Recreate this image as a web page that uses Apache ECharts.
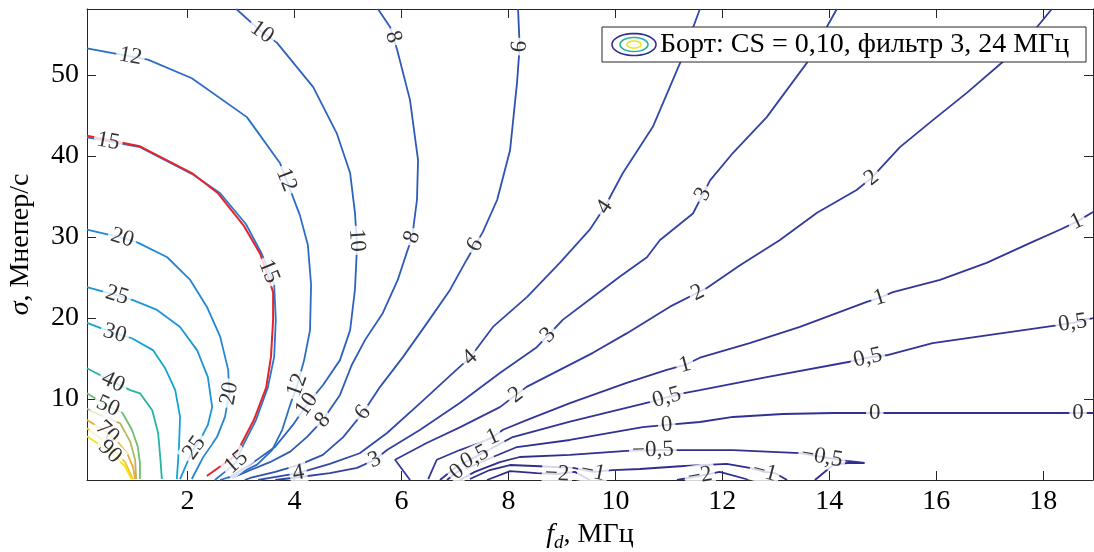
<!DOCTYPE html>
<html><head><meta charset="utf-8">
<script src="https://cdn.jsdelivr.net/npm/echarts@6/dist/echarts.min.js"></script>
<style>html,body{margin:0;padding:0;background:#fff}#c{width:1094px;height:552px}</style>
</head><body><div id="c"></div>
<script>
// ---------- DATA (fd in MHz, sigma in Mneper/s) ----------
const xTicks = [2, 4, 6, 8, 10, 12, 14, 16, 18];
const yTicks = [10, 20, 30, 40, 50];

const contourNeg2a = [[7.60,0],[8.03,1.1],[8.53,0.86],[8.91,0.74],[9.24,1.0],[9.52,0]];
const contourNeg2b = [[11.15,0],[11.58,0.5],[11.95,1.0],[12.51,0]];
const contourNeg1 = [[7.28,0.12],[7.65,1.23],[8.03,1.85],[8.59,1.7],[9.21,1.5],[9.58,1.0],[9.95,1.23],[10.46,1.36],[11.21,1.7],[12.08,2.0],[12.51,1.5],[12.79,1.0],[12.98,0.86],[13.21,0]];
const contourNeg05 = [[7.09,0],[7.37,1.0],[7.84,2.2],[8.21,2.84],[9.15,3.1],[10.21,3.6],[10.70,3.7],[11.58,3.7],[12.20,3.7],[13.45,3.33],[13.86,2.84],[14.33,2.35],[14.66,2.1],[14.33,2.1],[14.07,1.85],[13.73,0]];
const contour0 = [[6.85,0],[7.04,1.0],[7.28,1.6],[7.71,2.84],[8.16,4.07],[9.15,4.94],[10.51,6.54],[10.96,6.8],[11.58,7.16],[12.20,7.78],[13.13,8.15],[14.07,8.27],[15.07,8.27],[18.93,8.27]];
const contour05 = [[6.72,0],[7.02,1.6],[7.37,2.8],[7.71,4.0],[8.08,5.3],[9.15,7.2],[10.64,9.6],[10.96,10.2],[11.26,10.7],[11.58,11.1],[12.83,12.7],[14.38,14.6],[14.72,15.1],[15.07,15.4],[15.93,16.9],[18.25,19.1],[18.55,19.4],[18.93,20.0]];
const contour1 = [[6.50,0.12],[6.66,2.5],[7.09,3.7],[7.47,4.6],[7.71,5.3],[7.90,6.2],[8.34,7.4],[9.15,9.5],[10.21,12.0],[10.96,13.6],[11.30,14.2],[11.58,15.1],[12.51,16.9],[13.45,18.9],[14.70,22.0],[14.94,22.5],[15.19,23.2],[16.07,24.7],[16.94,26.8],[17.80,29.4],[18.31,30.9],[18.63,31.9],[18.93,33.1]];
const contour2 = [[6.16,0],[5.88,2.5],[6.48,4.6],[7.09,6.5],[7.84,9.0],[8.34,11.5],[8.96,13.6],[9.58,15.7],[10.21,18.1],[11.02,21.4],[11.71,23.7],[12.33,26.5],[13.07,29.6],[13.77,33.0],[14.51,35.8],[14.79,37.3],[15.32,41.1],[15.93,44.4],[16.57,47.8],[17.24,51.6],[17.88,55.9],[18.16,58.15]];
const contour3 = [[3.64,0],[4.10,0.37],[4.66,0.86],[5.17,1.5],[5.50,2.5],[5.73,3.7],[6.35,6.2],[7.09,9.5],[7.84,13.2],[8.53,16.4],[9.02,19.8],[9.58,22.6],[10.08,25.1],[10.59,27.5],[10.83,29.6],[11.45,32.9],[11.77,37.0],[12.20,40.4],[12.83,44.8],[13.58,51.5],[14.14,58.15]];
const contour4 = [[3.32,0],[3.54,0.25],[4.07,0.86],[4.66,2.0],[5.22,3.3],[5.73,5.8],[6.35,9.5],[6.96,13.2],[7.28,15.1],[7.71,18.9],[8.35,22.6],[8.96,26.8],[9.52,30.9],[9.80,33.7],[10.14,37.9],[10.70,43.6],[11.21,51.5],[11.58,58.15]];
const contour6 = [[3.07,0],[3.17,0.25],[3.64,1.0],[4.10,1.9],[4.53,3.1],[4.91,5.3],[5.28,8.3],[5.60,11.5],[6.03,15.2],[6.48,19.4],[6.91,23.5],[7.22,27.2],[7.52,30.6],[7.79,34.6],[8.03,40.7],[8.16,49.0],[8.21,53.5],[8.18,58.15]];
const contour8 = [[2.83,0.25],[3.17,1.2],[3.54,2.2],[3.92,3.5],[4.23,5.3],[4.53,7.4],[4.85,10.5],[5.07,14.2],[5.32,17.3],[5.65,20.6],[5.93,24.7],[6.10,28.1],[6.20,30.0],[6.29,34.6],[6.31,39.5],[6.16,46.9],[5.92,53.1],[5.79,55.9],[5.56,58.15]];
const contour10 = [[2.76,0.25],[3.17,1.9],[3.64,4.1],[3.97,6.8],[4.23,9.3],[4.53,11.7],[4.85,14.8],[5.04,18.5],[5.13,23.5],[5.17,29.0],[5.13,33.0],[5.04,37.9],[4.79,42.8],[4.35,48.5],[3.67,54.0],[3.39,55.3],[2.91,58.15]];
const contour12 = [[2.61,0],[2.94,0.7],[3.30,1.9],[3.58,3.7],[3.77,6.2],[3.92,9.3],[4.05,11.7],[4.18,14.8],[4.29,18.5],[4.31,24.1],[4.25,29.0],[4.10,32.7],[3.73,39.1],[3.11,44.8],[2.08,49.6],[1.26,51.9],[0.12,53.3]];
const contour15 = [[2.51,0],[2.70,1.0],[2.91,2.2],[3.04,4.3],[3.28,7.4],[3.50,11.4],[3.62,15.2],[3.65,19.8],[3.62,24.1],[3.39,27.9],[3.09,31.6],[2.61,35.4],[2.08,37.8],[1.11,41.1],[0.12,42.3]];
const contour20 = [[2.08,0.12],[2.29,2.8],[2.55,5.3],[2.70,7.8],[2.78,10.7],[2.76,13.6],[2.61,17.7],[2.36,21.4],[2.05,24.7],[1.62,27.5],[1.07,29.3],[0.78,29.9],[0.12,30.9]];
const contour25 = [[1.86,0.12],[1.99,2.1],[2.10,3.7],[2.23,4.9],[2.38,6.8],[2.46,9.0],[2.38,12.7],[2.18,16.0],[1.86,18.9],[1.43,21.0],[0.98,22.2],[0.68,22.8],[0.12,23.8]];
const contour30 = [[1.80,0.12],[1.84,4.1],[1.86,7.8],[1.77,11.1],[1.58,13.8],[1.36,16.0],[0.96,17.5],[0.64,18.1],[0.12,19.4]];
const contour40 = [[1.52,0.12],[1.49,2.8],[1.45,5.8],[1.34,8.6],[1.11,10.7],[0.93,11.1],[0.61,12.1],[0.12,13.8]];
const contour50 = [[1.11,0.12],[1.11,2.1],[1.07,4.1],[0.96,6.2],[0.78,8.3],[0.51,9.1],[0.12,10.7]];
const contour60 = [[1.04,0.12],[1.02,2.5],[0.93,4.7],[0.74,7.0],[0.12,8.8]];
const contour70 = [[1.02,0.12],[0.98,1.6],[0.87,3.3],[0.69,4.7],[0.50,5.9],[0.12,7.4]];
const contour80 = [[0.98,0.12],[0.83,2.2],[0.55,4.3],[0.12,6.4]];
const contour90 = [[0.95,0.12],[0.83,1.7],[0.55,3.5],[0.12,5.4]];
const boundaryRed = [[2.36,0.5],[2.89,3.0],[3.24,7.4],[3.47,11.4],[3.56,15.2],[3.60,19.8],[3.60,23.2],[3.36,27.9],[3.04,31.5],[2.57,35.4],[2.08,37.9],[1.11,41.2],[0.12,42.5]];

// contour label spots: [level, fd, sigma]
const labelSpots = [
 [12,0.93,52.2],[12,3.82,37.0],[12,4.05,11.7],
 [10,3.39,55.3],[10,5.17,29.6],[10,4.23,9.3],
 [8,5.84,54.7],[8,6.20,30.0],[8,4.53,7.4],
 [6,8.21,53.5],[6,7.38,29.0],[6,5.28,8.3],
 [4,9.80,33.7],[4,7.28,15.1],[4,4.07,0.86],
 [3,11.64,35.3],[3,8.74,17.9],[3,5.50,2.5],
 [2,14.79,37.3],[2,11.54,23.1],[2,8.12,10.7],
 [1,18.63,31.9],[1,14.94,22.5],[1,11.30,14.2],[1,7.71,5.3],
 [0.5,18.55,19.4],[0.5,14.72,15.1],[0.5,10.96,10.2],[0.5,7.37,2.8],
 [0,18.65,8.27],[0,14.85,8.27],[0,10.96,6.8],[0,7.04,1.0],
 [-0.5,13.86,2.84],[-0.5,10.70,3.7],
 [-1,12.79,1.0],[-1,9.58,1.0],
 [-2,8.91,0.74],[-2,11.58,0.5],
 [15,0.51,41.6],[15,3.47,25.6],[15,2.91,2.2],
 [20,0.78,29.9],[20,2.78,10.7],
 [25,0.68,22.8],[25,2.10,4.1],
 [30,0.64,18.1],[40,0.61,12.1],[50,0.51,9.1],[70,0.50,5.9],[90,0.55,3.5]
];

const contours = [
 {level:-2, pts:contourNeg2a},{level:-2, pts:contourNeg2b},{level:-1, pts:contourNeg1},
 {level:-0.5, pts:contourNeg05},{level:0, pts:contour0},{level:0.5, pts:contour05},
 {level:1, pts:contour1},{level:2, pts:contour2},{level:3, pts:contour3},{level:4, pts:contour4},
 {level:6, pts:contour6},{level:8, pts:contour8},{level:10, pts:contour10},{level:12, pts:contour12},
 {level:15, pts:contour15},{level:20, pts:contour20},{level:25, pts:contour25},{level:30, pts:contour30},
 {level:40, pts:contour40},{level:50, pts:contour50},{level:60, pts:contour60},{level:70, pts:contour70},
 {level:80, pts:contour80},{level:90, pts:contour90}
];

// ---------- STYLE ----------
const levelColors = {
 '-2':'#2f2e8e','-1':'#2f2e8e','-0.5':'#302f90','0':'#303194','0.5':'#313396','1':'#313698',
 '2':'#323b9e','3':'#3142a4','4':'#3049aa','6':'#2f52b2','8':'#2e5ab8','10':'#2d63be',
 '12':'#2b6dc5','15':'#2977cc','20':'#2586d2','25':'#1d95d6','30':'#13a3d4','40':'#26b2a4',
 '50':'#6dbf74','60':'#b2b95a','70':'#e9ab3d','80':'#f4c62b','90':'#f2e31f'
};
const FONT = "'Liberation Serif','DejaVu Serif',serif";
const AX = '#262626';
function fmt(v){ return String(v).replace('.', ',').replace('-', '\u2212'); }

const lineSeries = contours.map((c,i) => ({
  type:'line', id:'c'+i, data:c.pts, showSymbol:false, silent:true, animation:false,
  lineStyle:{color:levelColors[String(c.level)], width:1.8}, z:2
}));
lineSeries.push({type:'line', id:'red', data:boundaryRed, showSymbol:false, silent:true, animation:false,
  lineStyle:{color:'#e8222a', width:2}, z:3});
lineSeries.push({type:'scatter', id:'labels', data:[], silent:true, animation:false, symbolSize:1,
  itemStyle:{color:'rgba(0,0,0,0)'}, z:5,
  label:{show:true, position:'inside', formatter:'{b}', fontSize:23, fontFamily:FONT, color:'#000',
         backgroundColor:'#fff', padding:[0,3]}});

function ellipsePts(cx, cy, rx, ry){
  const p=[]; for(let i=0;i<48;i++){const a=i/48*2*Math.PI; p.push([cx+rx*Math.cos(a), cy+ry*Math.sin(a)]);} return p;
}

const xMin = 0.12, xMax = 18.93, yMin = 0, yMax = 58.15;
const axisCommon = {
  axisLine:{show:true, onZero:false, lineStyle:{color:AX, width:1}},
  splitLine:{show:false}
};
const option = {
  backgroundColor:'#fff',
  animation:false,
  grid:{left:87, top:9, width:1006, height:471, containLabel:false, outerBoundsMode:'none'},
  xAxis:[
    Object.assign({type:'value', min:xMin, max:xMax, position:'bottom',
      axisTick:{show:true, inside:true, length:9, customValues:xTicks, lineStyle:{color:AX}},
      axisLabel:{customValues:xTicks, fontSize:28, fontFamily:FONT, color:'#000', margin:8},
      name:'{i|f}{s|d}{n|, МГц}', nameLocation:'middle', nameGap:40,
      nameTextStyle:{fontFamily:FONT, color:'#000', rich:{
        i:{fontStyle:'italic', fontSize:28, fontFamily:FONT, lineHeight:32, verticalAlign:'top'},
        s:{fontStyle:'italic', fontSize:19, fontFamily:FONT, lineHeight:19, verticalAlign:'bottom'},
        n:{fontSize:28, fontFamily:FONT, lineHeight:32, verticalAlign:'top'}}}
    }, axisCommon),
    Object.assign({type:'value', min:xMin, max:xMax, position:'top',
      axisTick:{show:true, inside:true, length:9, customValues:xTicks, lineStyle:{color:AX}},
      axisLabel:{show:false}}, axisCommon)
  ],
  yAxis:[
    Object.assign({type:'value', min:yMin, max:yMax, position:'left',
      axisTick:{show:true, inside:true, length:9, customValues:yTicks, lineStyle:{color:AX}},
      axisLabel:{customValues:yTicks, fontSize:28, fontFamily:FONT, color:'#000', margin:8},
      name:'{i|σ}{n|, Мнепер/с}', nameLocation:'middle', nameGap:52, nameRotate:90,
      nameTextStyle:{fontFamily:FONT, color:'#000', rich:{
        i:{fontStyle:'italic', fontSize:28, fontFamily:FONT},
        n:{fontSize:28, fontFamily:FONT}}}
    }, axisCommon),
    Object.assign({type:'value', min:yMin, max:yMax, position:'right',
      axisTick:{show:true, inside:true, length:9, customValues:yTicks, lineStyle:{color:AX}},
      axisLabel:{show:false}}, axisCommon)
  ],
  graphic:[
    {type:'rect', shape:{x:602, y:27, width:484, height:35}, style:{fill:'#fff', stroke:AX, lineWidth:1}, z:100},
    {type:'polygon', shape:{points:ellipsePts(634,44.5,22,11)}, style:{fill:'none', stroke:'#2f2e8e', lineWidth:1.6}, z:101},
    {type:'polygon', shape:{points:ellipsePts(634,44.5,14,7)}, style:{fill:'none', stroke:'#26b2a4', lineWidth:1.6}, z:101},
    {type:'polygon', shape:{points:ellipsePts(634,44.5,7,3.6)}, style:{fill:'none', stroke:'#f2e31f', lineWidth:1.6}, z:101},
    {type:'text', x:660, y:45, z:101, style:{text:'Борт: CS = 0,10, фильтр 3, 24 МГц', fontSize:28, fontFamily:FONT, fill:'#000', verticalAlign:'middle', align:'left'}}
  ],
  series: lineSeries
};

const chart = echarts.init(document.getElementById('c'), null, {renderer:'canvas'});
chart.setOption(option);

// place contour labels on their lines, rotated along the line
const labelData = labelSpots.map(([lv, x, y]) => {
  const P = chart.convertToPixel({gridIndex:0}, [x, y]);
  let best = null;
  contours.filter(c => c.level === lv).forEach(c => {
    const px = c.pts.map(p => chart.convertToPixel({gridIndex:0}, p));
    for (let i = 0; i < px.length - 1; i++) {
      const a = px[i], b = px[i+1];
      const dx = b[0]-a[0], dy = b[1]-a[1];
      const L2 = dx*dx + dy*dy || 1;
      let t = ((P[0]-a[0])*dx + (P[1]-a[1])*dy) / L2;
      t = Math.max(0, Math.min(1, t));
      const q = [a[0]+t*dx, a[1]+t*dy];
      const d = (q[0]-P[0])**2 + (q[1]-P[1])**2;
      if (!best || d < best.d) best = {d, q, dx, dy};
    }
  });
  let ang = -Math.atan2(best.dy, best.dx) * 180 / Math.PI;
  if (ang > 90) ang -= 180;
  if (ang < -90) ang += 180;
  const v = chart.convertFromPixel({gridIndex:0}, best.q);
  return {value:v, name:fmt(lv), label:{rotate:ang}};
});
chart.setOption({series:[{id:'labels', data:labelData}]});
</script>
</body></html>
